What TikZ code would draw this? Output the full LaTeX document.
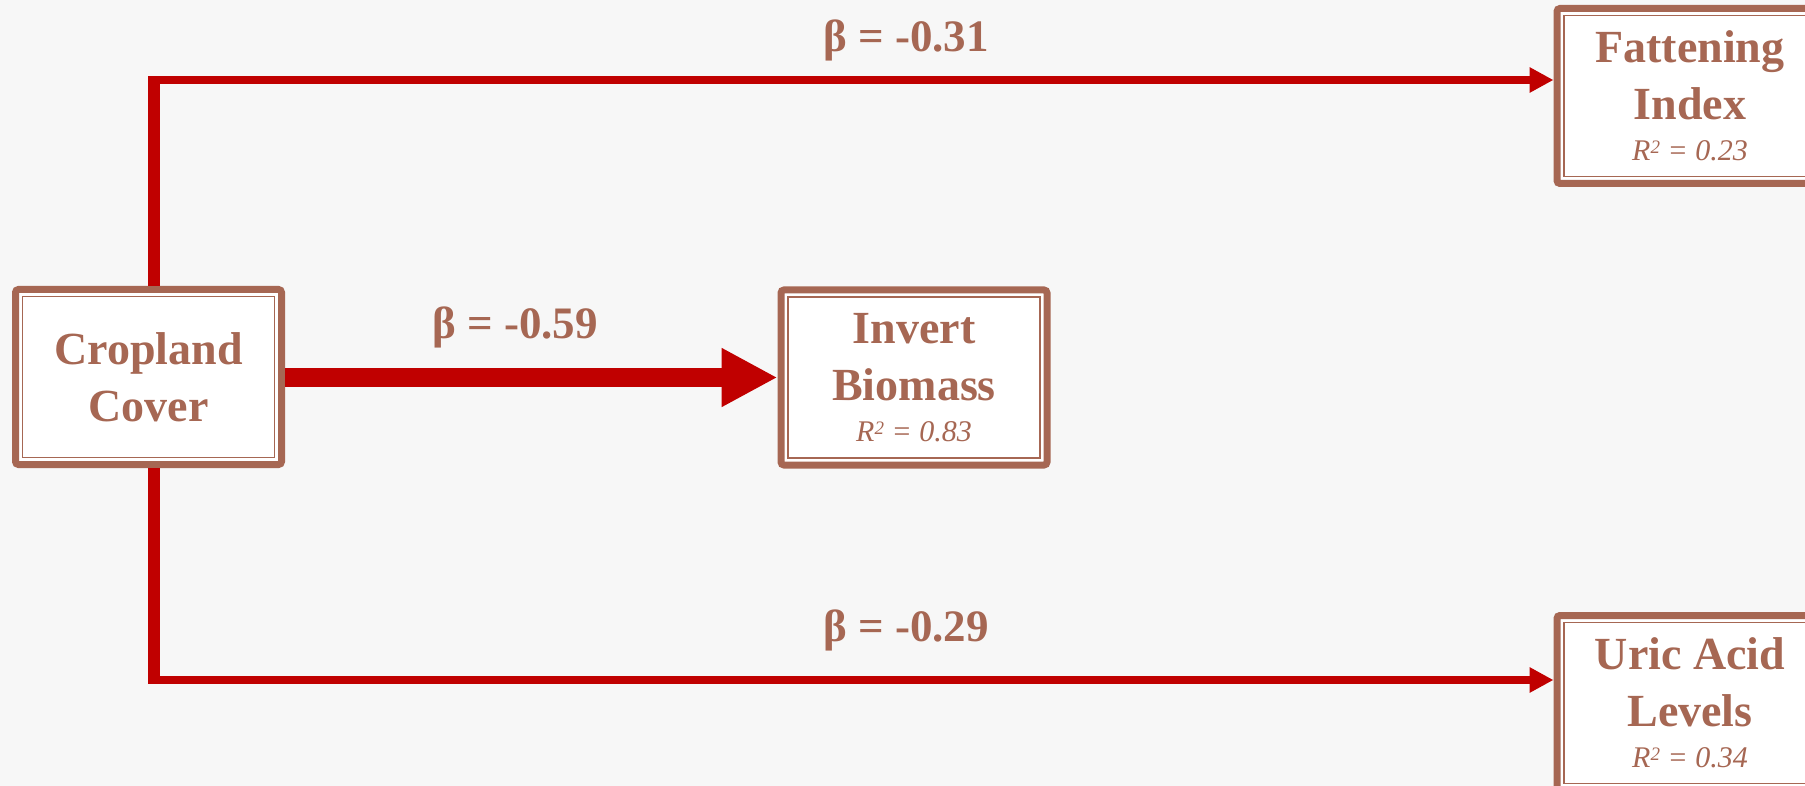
\documentclass[tikz,border=0pt]{standalone}
\usepackage{fontspec}
\setmainfont{Liberation Serif}
\usetikzlibrary{arrows.meta,calc}
\definecolor{bordbrown}{RGB}{166,103,83}
\definecolor{linered}{RGB}{192,0,0}
\definecolor{bgpaper}{RGB}{247,247,247}
\tikzset{
  varbox/.style={draw=bordbrown, line width=7pt, fill=white, rounded corners=3pt,
    minimum width=266pt, minimum height=175pt, inner sep=0pt, align=center,
    text=bordbrown, font=\bfseries\fontsize{46}{57}\selectfont},
  innerline/.style={draw=bordbrown, line width=1.6pt},
  vertpath/.style={draw=linered, line width=12pt},
  thinarrow/.style={draw=linered, line width=8pt, -{Triangle[length=24pt,width=24pt]}},
  thickarrow/.style={draw=linered, line width=19pt, -{Triangle[length=56pt,width=55pt]}},
  betalabel/.style={anchor=base, text=bordbrown, inner sep=0pt,
    font=\bfseries\fontsize{45}{54}\selectfont}
}
\newcommand{\rsqline}[1]{{\fontsize{30}{34}\selectfont\mdseries\itshape R\raisebox{0.5ex}{\fontsize{19}{20}\selectfont 2} = #1}}
\begin{document}
\begin{tikzpicture}[x=1pt,y=-1pt]
\useasboundingbox (0,0) rectangle (1805,786);
\clip (0,0) rectangle (1805,786);
\fill[bgpaper] (0,0) rectangle (1805,786);

% nodes
\node[varbox] (crop) at (148.5,377) {Cropland\\Cover};
\node[varbox] (inv) at (914,377.5) {Invert\\Biomass\\[-16pt]\rsqline{0.83}};
\node[varbox] (fat) at (1690,96) {Fattening\\Index\\[-16pt]\rsqline{0.23}};
\node[varbox] (uric) at (1690,703) {Uric Acid\\Levels\\[-16pt]\rsqline{0.34}};

% inner thin frames (anchors sit on the outer edge of the thick border)
\draw[innerline] ($(crop.north west)+(10.5,10.5)$) rectangle ($(crop.south east)+(-10.5,-10.5)$);
\draw[innerline] ($(inv.north west)+(10.5,10.5)$) rectangle ($(inv.south east)+(-10.5,-10.5)$);
\draw[innerline] ($(fat.north west)+(10.5,10.5)$) rectangle ($(fat.south east)+(-10.5,-10.5)$);
\draw[innerline] ($(uric.north west)+(10.5,10.5)$) rectangle ($(uric.south east)+(-10.5,-10.5)$);

% corners
\coordinate (ctop) at (154,80);
\coordinate (cbot) at (154,680);

% connectors
\draw[vertpath] (ctop |- crop.north) -- ($(ctop)+(0,-4)$);
\draw[thinarrow] ($(ctop)+(-6,0)$) -- (ctop -| fat.west);
\draw[vertpath] (cbot |- crop.south) -- ($(cbot)+(0,4)$);
\draw[thinarrow] ($(cbot)+(-6,0)$) -- (cbot -| uric.west);
\draw[thickarrow] (crop.east |- inv.west) -- (inv.west);

% labels
\node[betalabel] (b1) at (906,52) {β = -0.31};
\node[betalabel] (b2) at (515,338) {β = -0.59};
\node[betalabel] (b3) at (906,641) {β = -0.29};
\end{tikzpicture}
\end{document}
